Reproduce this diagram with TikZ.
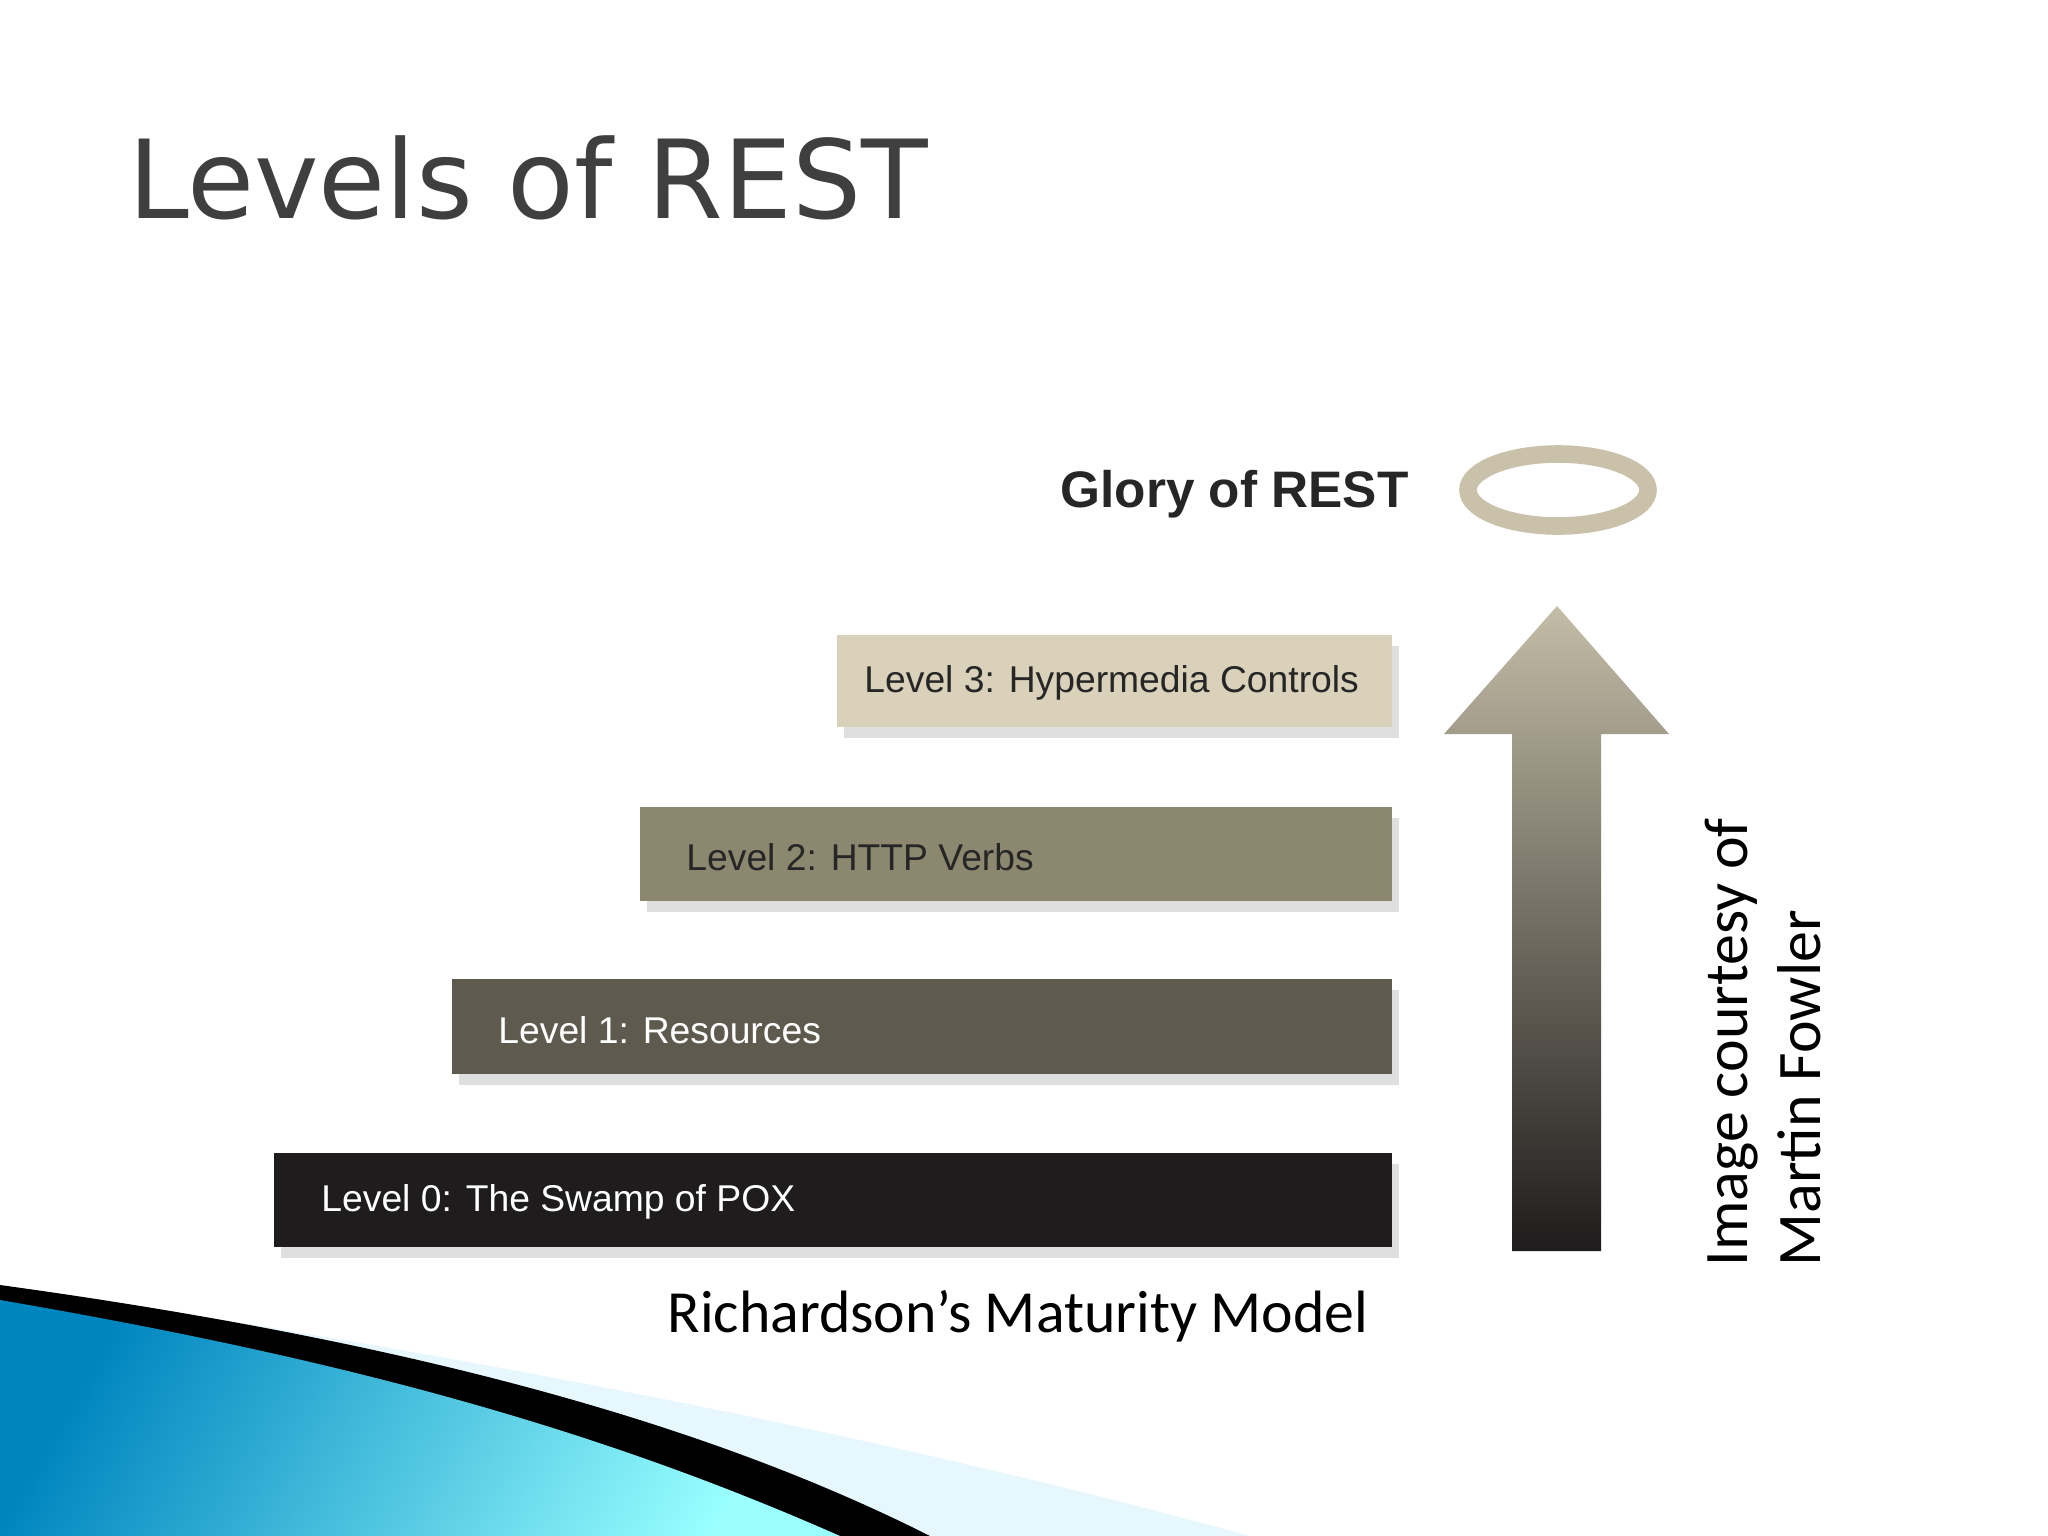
\documentclass[tikz,border=0pt]{standalone}
\usepackage{fontspec}
\setmainfont{Liberation Sans}
\newfontfamily\carl{Carlito}
\newfontfamily\dvs{DejaVu Sans}
\usetikzlibrary{shadows}
\definecolor{lthree}{HTML}{D9D1B9}
\definecolor{ltwo}{HTML}{8C8870}
\definecolor{lone}{HTML}{5E5A4E}
\definecolor{lzero}{HTML}{1E1C1C}
\definecolor{halo}{HTML}{C9C1A9}
\definecolor{titlegray}{HTML}{3F3F3F}
\tikzset{
  lvl/.style={draw=none, drop shadow={shadow xshift=2pt,shadow yshift=-3pt,opacity=0.25}},
  lvltext/.style={anchor=west, font=\fontsize{10.6}{12}\selectfont},
}
\begin{document}
\begin{tikzpicture}[x=0.01cm,y=-0.01cm]
\useasboundingbox (0,0) rectangle (2048,1536);
\fill[white] (0,0) rectangle (2048,1536);
% bottom-left decoration
\fill[cyan!10!white] (0,1285) .. controls (500,1360) and (900,1440) .. (1250,1536) -- (0,1536) -- cycle;
\fill[black] (0,1285) .. controls (400,1340) and (700,1420) .. (930,1536) -- (0,1536) -- cycle;
\shade[left color=cyan!70!blue!75!black, right color=cyan!40!white, shading angle=60]
  (0,1300) .. controls (350,1360) and (600,1430) .. (840,1536) -- (0,1536) -- cycle;
% title
\node[anchor=west, text=titlegray, font=\dvs\fontsize{31}{33}\selectfont] (title) at (116,178) {Levels of REST};
% boxes
\fill[lvl, fill=lthree] (837,635) rectangle (1392,727);
\fill[lvl, fill=ltwo] (640,807) rectangle (1392,901);
\fill[lvl, fill=lone] (452,979) rectangle (1392,1074);
\fill[lvl, fill=lzero] (274,1153) rectangle (1392,1247);
\node[lvltext, text=black!85] (l3) at (852,683) {Level 3: Hypermedia Controls};
\node[lvltext, text=black!85] (l2) at (674,857) {Level 2: HTTP Verbs};
\node[lvltext, text=white] (l1) at (486,1030) {Level 1: Resources};
\node[lvltext, text=white] (l0) at (309,1202) {Level 0: The Swamp of POX};
% arrow
\shade[top color=lthree!90!black, bottom color=lzero]
  (1512,1251) -- (1512,734) -- (1444,734) -- (1557,606) -- (1669,734) -- (1601,734) -- (1601,1251) -- cycle;
% glory
\node[anchor=east, font=\bfseries\fontsize{14.6}{16}\selectfont, text=black!85] (glory) at (1421,494) {Glory of REST};
\draw[halo, line width=5pt] (1558,490) ellipse [x radius=90, y radius=36];
% caption
\node[font=\carl\fontsize{17}{19}\selectfont] (cap) at (1018,1316) {Richardson’s Maturity Model};
\node[rotate=90, anchor=south west, align=left, inner sep=0pt, font=\carl\fontsize{17.6}{21}\selectfont] (credit) at (1822,1267) {Image courtesy of\\Martin Fowler};
\end{tikzpicture}
\end{document}
